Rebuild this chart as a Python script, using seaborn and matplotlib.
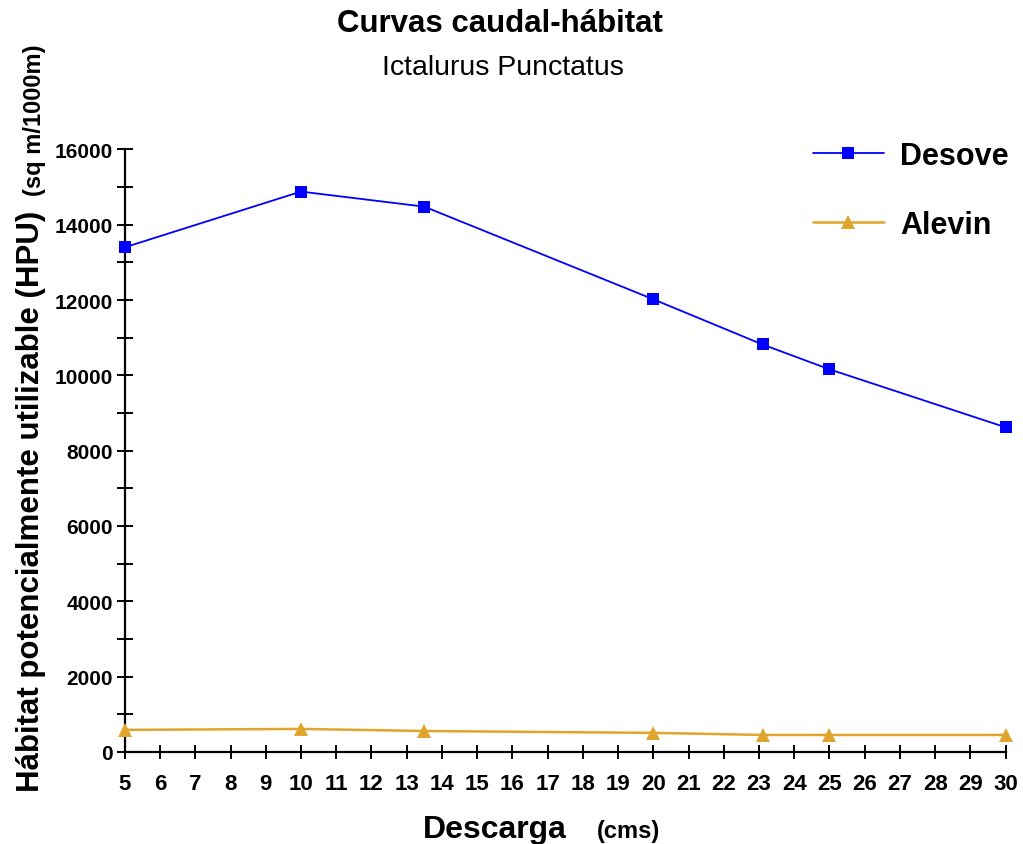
import numpy as np
import pandas as pd
import matplotlib
matplotlib.use("Agg")
import matplotlib.pyplot as plt
from matplotlib.ticker import MultipleLocator
import seaborn as sns

# Datos
descarga = [5, 10, 13.5, 20, 23.1, 25, 30]
desove = [13400, 14880, 14480, 12020, 10820, 10160, 8620]
alevin = [585, 610, 555, 505, 450, 450, 450]

x_ticks = list(range(5, 31))
y_ticks = list(range(0, 16001, 2000))

sns.set_style("white")
plt.rcParams["font.family"] = ["Liberation Sans", "DejaVu Sans"]
plt.rcParams["text.color"] = "black"
plt.rcParams["xtick.color"] = "black"
plt.rcParams["ytick.color"] = "black"

fig = plt.figure(figsize=(10.23, 8.45), dpi=100)
ax = fig.add_axes([0.122, 0.109, 0.861, 0.713])

sns.lineplot(x=descarga, y=desove, ax=ax, color="#0000FF", marker="s",
             markersize=8, markeredgewidth=0, linewidth=1.3, label="Desove",
             clip_on=False, zorder=3)
sns.lineplot(x=descarga, y=alevin, ax=ax, color="#DFA52C", marker="^",
             markersize=10, markeredgewidth=0, linewidth=1.8, label="Alevin",
             clip_on=False, zorder=3)

ax.set_xlim(5, 30)
ax.set_ylim(0, 16000)
ax.set_xticks(x_ticks)
ax.set_yticks(y_ticks)
ax.yaxis.set_minor_locator(MultipleLocator(1000))
ax.tick_params(axis="both", which="both", direction="inout", length=11,
               width=1.4, color="black", bottom=True, left=True)
ax.tick_params(axis="x", which="major", length=10, pad=10)
ax.tick_params(axis="y", pad=3)

for lbl in ax.get_yticklabels():
    lbl.set_fontsize(15)
    lbl.set_fontweight("bold")
for lbl in ax.get_xticklabels():
    lbl.set_fontsize(16)
    lbl.set_fontweight("bold")

for side in ["top", "right"]:
    ax.spines[side].set_visible(False)
for side in ["left", "bottom"]:
    ax.spines[side].set_color("black")
    ax.spines[side].set_linewidth(1.6)

ax.set_xlabel("")
ax.set_ylabel("")

leg = ax.legend(loc="upper right", bbox_to_anchor=(1.035, 1.06), frameon=False,
                handlelength=2.3, labelspacing=1.28, handletextpad=0.55,
                prop={"size": 22, "weight": "bold"})

# Títulos
fig.text(0.489, 0.972, "Curvas caudal-hábitat", ha="center", va="center",
         fontsize=22.5, fontweight="bold")
fig.text(0.492, 0.919, "Ictalurus Punctatus", ha="center", va="center",
         fontsize=20.5)

# Etiqueta eje Y (dos partes)
fig.text(0.030, 0.063, "Hábitat potencialmente utilizable (HPU)", rotation=90,
         ha="center", va="bottom", fontsize=22.5, fontweight="bold")
fig.text(0.034, 0.768, "(sq m/1000m)", rotation=90, ha="center", va="bottom",
         fontsize=17, fontweight="bold")

# Etiqueta eje X (dos partes)
fig.text(0.554, 0.008, "Descarga", ha="right", va="baseline",
         fontsize=23, fontweight="bold")
fig.text(0.583, 0.008, "(cms)", ha="left", va="baseline",
         fontsize=17, fontweight="bold")

fig.savefig("out.png", dpi=100)
